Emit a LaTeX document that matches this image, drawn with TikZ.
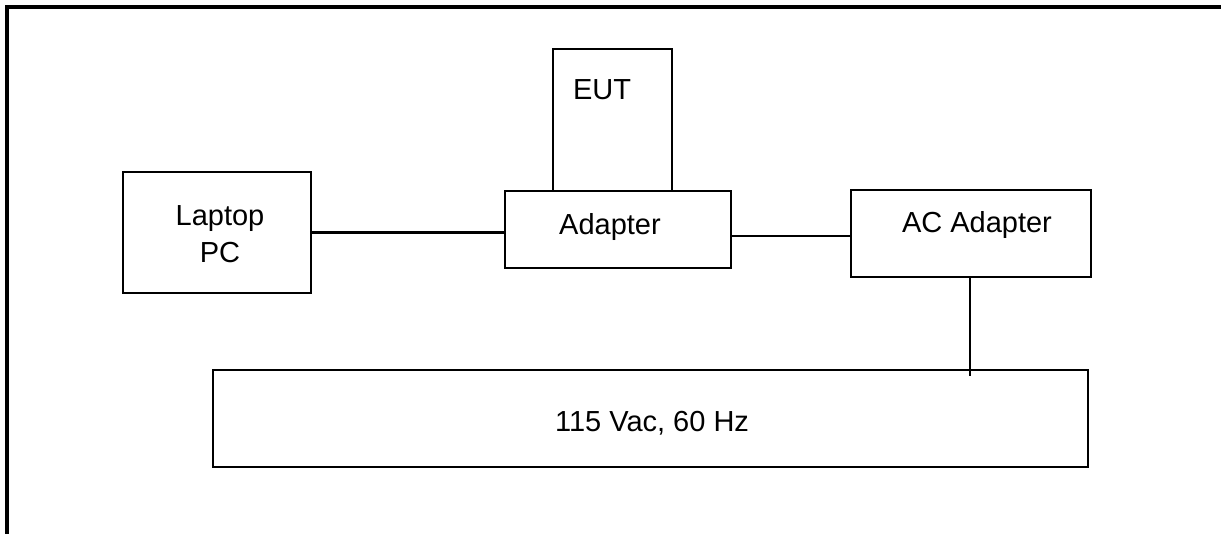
\documentclass[tikz,border=0pt]{standalone}
\usepackage{fontspec}
\setmainfont{Liberation Sans}
\usetikzlibrary{positioning,calc}

\begin{document}
\begin{tikzpicture}[
  x=0.02cm, y=-0.02cm,
  lbl/.style={font=\fontsize{16.5}{21}\selectfont, inner sep=1pt, align=center},
  blk/.style={rectangle, draw=black, line width=1.2pt, inner sep=0pt},
  wire/.style={draw=black, line width=1.2pt},
  frame/.style={draw=black, line width=1.8pt}
]

\useasboundingbox (0,0) rectangle (1221,534);
\draw[frame] (7,534) -- (7,7) -- (1221,7);

\node[blk, minimum width=3.76cm, minimum height=2.42cm] (laptop) at (217,232.5) {};
\node[blk, minimum width=2.38cm, minimum height=2.84cm] (eut) at (612.5,120) {};
\node[blk, minimum width=4.52cm, minimum height=1.54cm, fill=white] (adapter) at (618,229.5) {};
\node[blk, minimum width=4.80cm, minimum height=1.74cm] (acadapter) at (971,233.5) {};
\node[blk, minimum width=17.5cm, minimum height=1.94cm] (mains) at (650.5,418.5) {};
\coordinate (tap) at (970,376);

\draw[wire] (laptop.east) -- (laptop.east -| adapter.west);
\draw[wire] ([yshift=-0.05cm]acadapter.west) -- ([yshift=-0.05cm]acadapter.west -| adapter.east);
\draw[wire] (acadapter.south -| tap) -- (tap);

\node[lbl] (laptoplbl) at (220,234) {Laptop\\PC};
\node[lbl] (eutlbl) at (602,90) {EUT};
\node[lbl] (adapterlbl) at (610,227) {Adapter};
\node[lbl] (aclbl) at (977,225) {AC Adapter};
\node[lbl] (mainslbl) at (652,423) {115 Vac, 60 Hz};

\end{tikzpicture}
\end{document}
